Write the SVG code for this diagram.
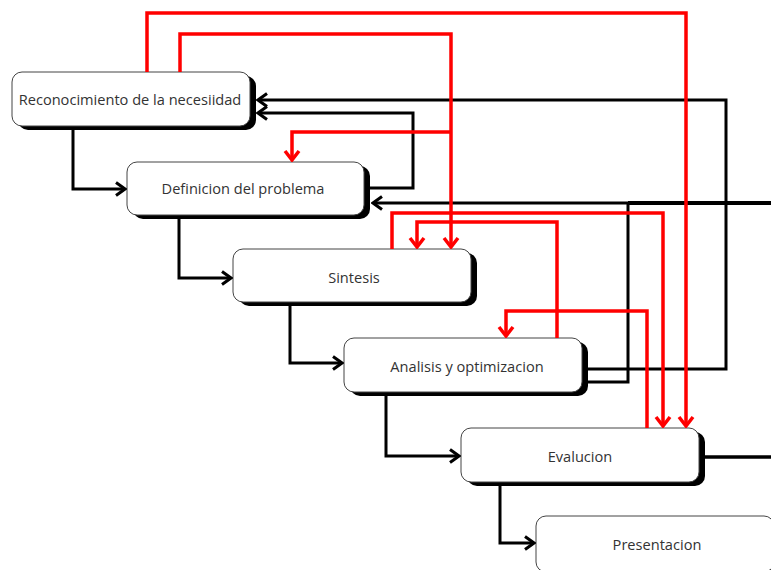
<svg xmlns="http://www.w3.org/2000/svg" width="771" height="570" viewBox="0 0 771 570">
<defs>
<style>
.box{fill:#fff;stroke:#444;stroke-width:1}
.sh{fill:#000}
.t{font-family:"Open Sans","Noto Sans",sans-serif;font-size:14.6px;fill:#333;text-anchor:middle;dominant-baseline:central}
.k{fill:none;stroke:#000;stroke-width:3}
.r{fill:none;stroke:#f00;stroke-width:3.5}
</style>
<marker id="ak" viewBox="-12 -10 14 20" refX="0" refY="0" markerWidth="14" markerHeight="20" markerUnits="userSpaceOnUse" orient="auto">
<path d="M-9,-6.5 L0,0 L-9,6.5" fill="none" stroke="#000" stroke-width="3"/>
</marker>
<marker id="ar" viewBox="-12 -10 14 20" refX="0" refY="0" markerWidth="14" markerHeight="20" markerUnits="userSpaceOnUse" orient="auto">
<path d="M-9,-7 L0,0 L-9,7" fill="none" stroke="#f00" stroke-width="3.5"/>
</marker>
</defs>
<rect width="771" height="570" fill="#fff"/>
<g id="n1"><rect class="sh" x="18" y="76" width="238" height="54" rx="10"/><rect class="box" x="12" y="72" width="238" height="54" rx="10"/><text class="t" x="130" y="99">Reconocimiento de la necesiidad</text></g>
<g id="n2"><rect class="sh" x="133" y="166" width="237" height="53" rx="10"/><rect class="box" x="127" y="162" width="237" height="53" rx="10"/><text class="t" x="243" y="188">Definicion del problema</text></g>
<g id="n3"><rect class="sh" x="239" y="253" width="238" height="53" rx="10"/><rect class="box" x="233" y="249" width="238" height="53" rx="10"/><text class="t" x="354" y="277">Sintesis</text></g>
<g id="n4"><rect class="sh" x="350" y="342" width="238" height="54" rx="10"/><rect class="box" x="344" y="338" width="238" height="54" rx="10"/><text class="t" x="467" y="366">Analisis y optimizacion</text></g>
<g id="n5"><rect class="sh" x="467" y="432" width="238" height="54" rx="10"/><rect class="box" x="461" y="428" width="238" height="54" rx="10"/><text class="t" x="580" y="456">Evalucion</text></g>
<g id="n6"><rect class="sh" x="542" y="520" width="238" height="56" rx="10"/><rect class="box" x="536" y="516" width="238" height="56" rx="10"/><text class="t" x="657" y="544">Presentacion</text></g>
<g id="connectors">
<path class="k" d="M73,127 V189 H125" marker-end="url(#ak)"/>
<path class="k" d="M179,216 V278 H231" marker-end="url(#ak)"/>
<path class="k" d="M290,303 V363 H342" marker-end="url(#ak)"/>
<path class="k" d="M386,393 V456 H459" marker-end="url(#ak)"/>
<path class="k" d="M500,483 V543 H534" marker-end="url(#ak)"/>
<path class="k" d="M370,188 H413 V113 H258" marker-end="url(#ak)"/>
<path class="k" d="M588,369 H726 V100 H258" marker-end="url(#ak)"/>
<path class="k" d="M588,382 H628 V203"/>
<path class="k" d="M771,203 H373" marker-end="url(#ak)"/>
<path class="k" style="stroke-width:4" d="M628,203 H771"/>
<path class="k" style="stroke-width:3.5" d="M705,457 H771"/>
<path class="r" d="M147,72 V13 H686 V426" marker-end="url(#ar)"/>
<path class="r" d="M180,72 V34 H451 V247" marker-end="url(#ar)"/>
<path class="r" d="M451,132 H292 V160" marker-end="url(#ar)"/>
<path class="r" d="M392,249 V213 H663 V426" marker-end="url(#ar)"/>
<path class="r" d="M557,338 V222 H417 V247" marker-end="url(#ar)"/>
<path class="r" d="M647,428 V311 H506 V336" marker-end="url(#ar)"/>
</g>
</svg>
